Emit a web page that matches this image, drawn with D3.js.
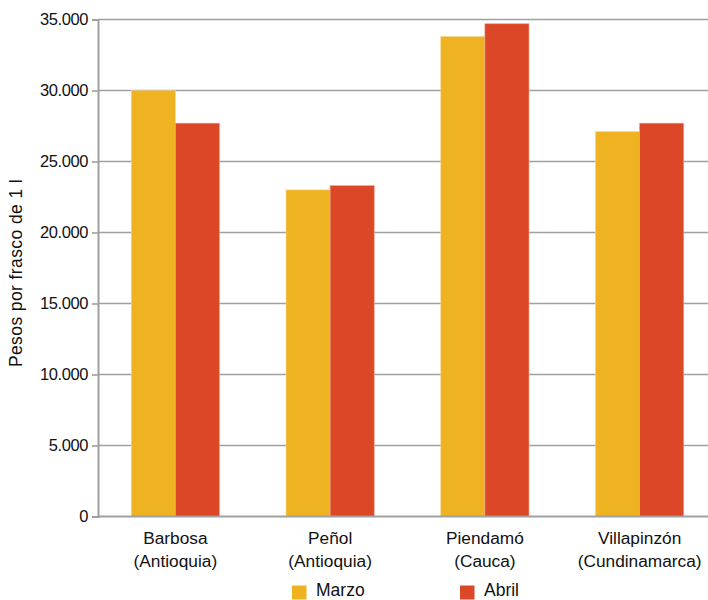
<!DOCTYPE html>
<html>
<head>
<meta charset="utf-8">
<script src="https://cdn.jsdelivr.net/npm/d3@7/dist/d3.min.js"></script>
<style>
  html, body { margin: 0; padding: 0; background: #fff; }
  svg { display: block; font-family: "Liberation Sans", Arial, sans-serif; }
</style>
</head>
<body>
<svg id="chart" width="708" height="600"></svg>
<script>
const categories = [
  ["Barbosa", "(Antioquia)"],
  ["Peñol", "(Antioquia)"],
  ["Piendamó", "(Cauca)"],
  ["Villapinzón", "(Cundinamarca)"]
];
const seriesNames = ["Marzo", "Abril"];
const marzo = [30000, 23000, 33800, 27100];
const abril = [27700, 23300, 34700, 27700];
const yTicks = [0, 5000, 10000, 15000, 20000, 25000, 30000, 35000];
const yTickLabels = ["0", "5.000", "10.000", "15.000", "20.000", "25.000", "30.000", "35.000"];
const yLabel = "Pesos por frasco de 1 l";
const colors = ["#EFB220", "#DC4827"];

const svg = d3.select("#chart");
const W = 708;
const mLeft = 98, mTop = 19.5, mBottom = 516.5;

const y = d3.scaleLinear().domain([0, 35000]).range([mBottom, mTop]);
const catIdx = categories.map((c, i) => i);
const x0 = d3.scaleBand().domain(catIdx).range([mLeft, mLeft + 4 * 154.75]).paddingInner(0.43).paddingOuter(0.215);
const x1 = d3.scaleBand().domain([0, 1]).range([0, x0.bandwidth()]);

// gridlines
svg.append("g").selectAll("line").data(yTicks.filter(d => d > 0)).join("line")
  .attr("x1", mLeft).attr("x2", W)
  .attr("y1", d => y(d)).attr("y2", d => y(d))
  .attr("stroke", "#a0a0a0").attr("stroke-width", 1.6);

// bars
const data = [marzo, abril];
const g = svg.append("g");
catIdx.forEach(i => {
  data.forEach((s, j) => {
    g.append("rect")
      .attr("x", x0(i) + x1(j))
      .attr("width", x1.bandwidth())
      .attr("y", y(s[i]))
      .attr("height", y(0) - y(s[i]))
      .attr("fill", colors[j])
      .attr("stroke", j === 0 ? "#f6d58a" : "#eea08c")
      .attr("stroke-width", 0.6);
  });
});

// y axis
const yAxis = d3.axisLeft(y).tickValues(yTicks).tickSize(6).tickPadding(4)
  .tickFormat((d, i) => yTickLabels[i]);
const ga = svg.append("g").attr("transform", `translate(${mLeft},0)`).call(yAxis);
ga.select(".domain").attr("stroke", "#a0a0a0").attr("stroke-width", 2);
ga.selectAll(".tick line").attr("stroke", "#a0a0a0").attr("stroke-width", 1.6);
ga.selectAll(".tick text").attr("font-size", 16.5).attr("fill", "#111")
  .attr("font-family", "Liberation Sans, Arial, sans-serif").style("letter-spacing", "-0.4px");

// zero baseline
svg.append("line").attr("x1", mLeft).attr("x2", W).attr("y1", y(0)).attr("y2", y(0))
  .attr("stroke", "#a0a0a0").attr("stroke-width", 2);

// category labels
const cl = svg.append("g");
catIdx.forEach(i => {
  const cx = x0(i) + x0.bandwidth() / 2;
  const t = cl.append("text").attr("text-anchor", "middle").attr("font-size", 17.3).attr("fill", "#111");
  t.append("tspan").attr("x", cx).attr("y", 544).text(categories[i][0]);
  t.append("tspan").attr("x", cx).attr("y", 567).text(categories[i][1]);
});

// y label
svg.append("text").attr("transform", "translate(22,273) rotate(-90)")
  .attr("text-anchor", "middle").attr("font-size", 17.5).style("letter-spacing", "0.4px")
  .attr("fill", "#111").text(yLabel);

// legend
const legendX = [292, 460];
const lg = svg.append("g");
seriesNames.forEach((n, j) => {
  lg.append("rect").attr("x", legendX[j]).attr("y", 585.5).attr("width", 14.5).attr("height", 14)
    .attr("fill", colors[j]);
  lg.append("text").attr("x", legendX[j] + 24).attr("y", 596).attr("font-size", 17.5)
    .attr("fill", "#111").text(n);
});
</script>
</body>
</html>
